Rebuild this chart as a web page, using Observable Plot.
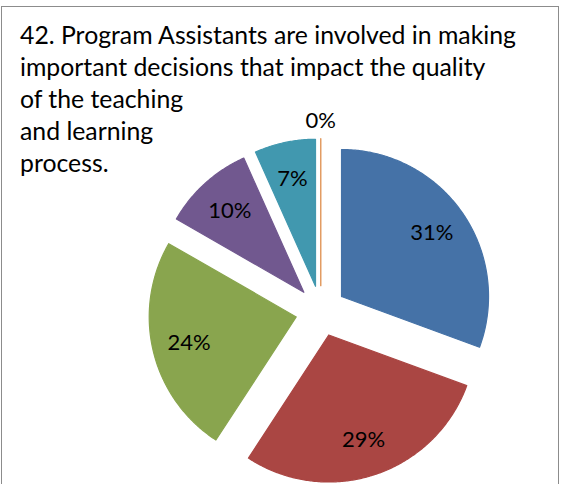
<!DOCTYPE html>
<html><head><meta charset="utf-8">
<script src="https://cdn.jsdelivr.net/npm/d3@7"></script>
<script src="https://cdn.jsdelivr.net/npm/@observablehq/plot@0.6"></script>
<style>
html,body{margin:0;padding:0;background:#fff;}
#wrap{position:relative;width:565px;height:484px;overflow:hidden;background:#fff;}
#chart{position:absolute;left:0;top:0;}
#frame{position:absolute;left:1px;top:6px;width:556px;height:540px;border:1.5px solid #8c8c8c;}
.tl{position:absolute;left:20px;font-family:Lato,sans-serif;font-size:24px;line-height:32px;color:#000;white-space:nowrap;}
</style></head><body>
<div id="wrap"><div id="chart"></div><div id="frame"></div><div id="title"></div></div>
<script>
// ---- data ----
const categories = ["Category 1", "Category 2", "Category 3", "Category 4", "Category 5", "Category 6"];
const values = [30.6, 28.6, 24.1, 10.0, 6.7, 0.0];
const labels = ["31%", "29%", "24%", "10%", "7%", "0%"];
const colors = ["#4572A7", "#AA4643", "#89A54E", "#71588F", "#4198AF", "#DB843D"];
const titleLines = [
  "42. Program Assistants are involved in making",
  "important decisions that impact the quality",
  "of the teaching",
  "and learning",
  "process."
];

// ---- title ----
const titleEl = document.getElementById("title");
titleLines.forEach((t, i) => {
  const d = document.createElement("div");
  d.className = "tl";
  d.textContent = t;
  d.style.top = (18.5 + 32 * i) + "px";
  titleEl.appendChild(d);
});
// fit font so the first line spans like the reference
(function fit() {
  const c = document.createElement("canvas").getContext("2d");
  c.font = "24px Lato";
  const w = c.measureText(titleLines[0]).width;
  const fs = 24 * 497 / w;
  document.querySelectorAll(".tl").forEach(el => el.style.fontSize = fs.toFixed(2) + "px");
})();

// ---- geometry ----
const W = 565, H = 484, cx = 320.3, cy = 310.5, R = 147;
const explode = 0.172;
const total = d3.sum(values);
let acc = 0;
const slices = values.map((v, i) => {
  const a0 = acc / total * 2 * Math.PI; acc += v;
  const a1 = acc / total * 2 * Math.PI;
  return {cat: categories[i], a0, a1, label: labels[i], v};
});
const pts = [];
const labs = [];
slices.forEach(s => {
  const mid = (s.a0 + s.a1) / 2;
  const ox = explode * Math.sin(mid), oy = explode * Math.cos(mid);
  pts.push({cat: s.cat, x: ox, y: oy});
  const n = Math.max(2, Math.ceil((s.a1 - s.a0) / (Math.PI / 360)));
  for (let k = 0; k <= n; k++) {
    const a = s.a0 + (s.a1 - s.a0) * k / n;
    pts.push({cat: s.cat, x: ox + Math.sin(a), y: oy + Math.cos(a)});
  }
  pts.push({cat: s.cat, x: ox, y: oy});
  const lr = s.v > 0 ? explode + 0.75 : explode + 1.12;
  labs.push({x: lr * Math.sin(mid), y: lr * Math.cos(mid), text: s.label});
});

const chart = Plot.plot({
  width: W, height: H, margin: 0,
  style: {background: "transparent"},
  x: {domain: [-cx / R, (W - cx) / R], axis: null},
  y: {domain: [-(H - cy) / R, cy / R], axis: null},
  color: {domain: categories, range: colors},
  marks: [
    Plot.line(pts, {x: "x", y: "y", z: "cat", fill: "cat", stroke: "cat", strokeWidth: 1.2, curve: "linear"}),
    Plot.text(labs, {x: "x", y: "y", text: "text", fontSize: 22, fontFamily: "Lato", fill: "#000"})
  ]
});
document.getElementById("chart").appendChild(chart);
</script>
</body></html>
